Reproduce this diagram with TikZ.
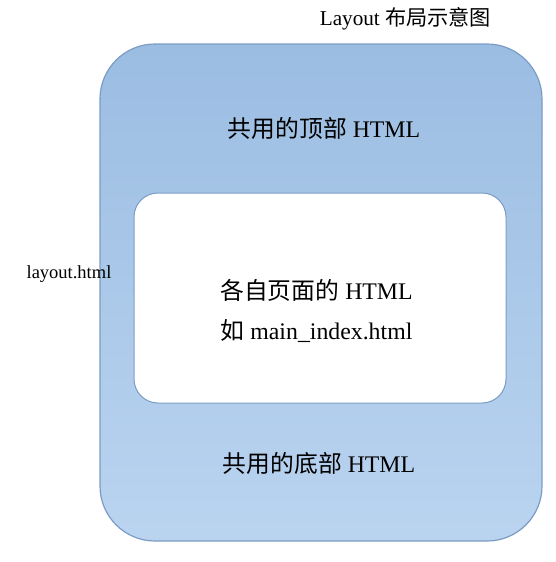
\documentclass[tikz,border=0pt]{standalone}
\usepackage{fontspec}
\setmainfont{Liberation Serif}
\newfontfamily\cjk{Noto Sans CJK SC}
\usetikzlibrary{shadings}
\definecolor{topblue}{HTML}{9BBDE2}
\definecolor{botblue}{HTML}{BAD4F0}
\definecolor{edgeblue}{HTML}{7B9CC4}
\tikzset{
  lbl/.style={inner sep=0pt, anchor=center, text=black},
  big/.style={lbl, font=\fontsize{23.8}{28}\selectfont},
  mid/.style={lbl, font=\fontsize{21.2}{25}\selectfont},
  small/.style={lbl, font=\fontsize{18.5}{22}\selectfont},
}
\begin{document}
\begin{tikzpicture}[x=1pt,y=-1pt]
\useasboundingbox (0,0) rectangle (556,562);
\path[fill=white] (0,0) rectangle (556,562);
\shade[top color=topblue, bottom color=botblue, draw=edgeblue, line width=1.2pt, rounded corners=55pt]
  (100,44) rectangle (542,541);
\draw[fill=white, draw=edgeblue, line width=1pt, rounded corners=24pt]
  (134,193) rectangle (506,403);
\node[mid] (title) at (405.5,19) {Layout {\cjk 布局示意图}};
\node[big] (top) at (324,128) {{\cjk 共用的顶部} HTML};
\node[big] (mid1) at (316.5,290) {{\cjk 各自页面的} HTML};
\node[big] (mid2) at (316.5,331) {{\cjk 如} main\_index.html};
\node[big] (bot) at (319,463) {{\cjk 共用的底部} HTML};
\node[small] (lay) at (69,274) {layout.html};
\end{tikzpicture}
\end{document}
